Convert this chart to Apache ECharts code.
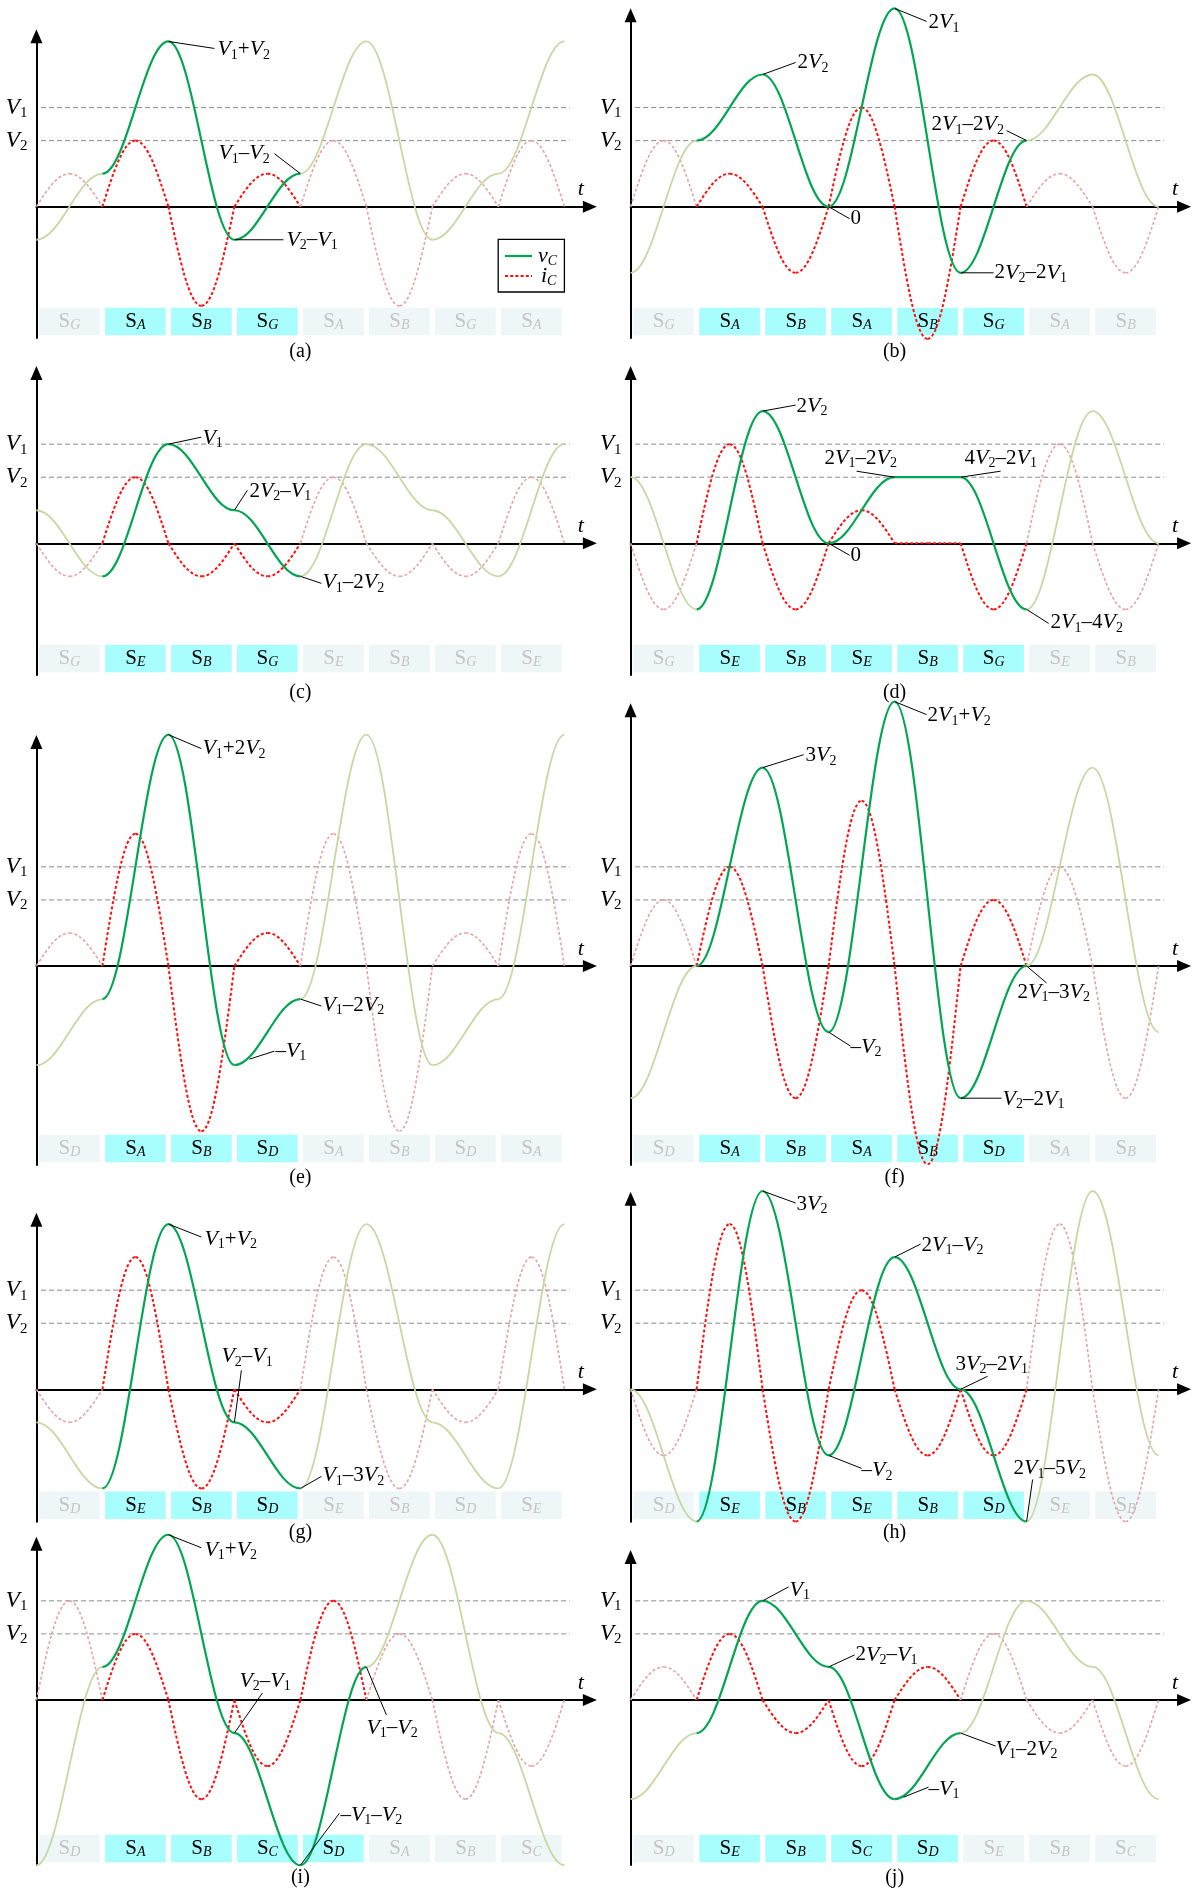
<!DOCTYPE html>
<html>
<head>
<meta charset="utf-8">
<title>vC / iC waveforms</title>
<script src="https://cdn.jsdelivr.net/npm/echarts@6.0.0/dist/echarts.min.js"></script>
<style>
  html, body { margin: 0; padding: 0; background: #fff; }
  #chart { width: 1192px; height: 1890px; }
</style>
</head>
<body>
<div id="chart"></div>
<script>
// levels, in axis units
const V1 = 3;
const V2 = 2;

// vC at the 9 segment boundaries, iC peak of each of the 8 segments,
// switch state of each segment, and the highlighted segment range
const vcA = [-1, 1, 5, -1, 1, 5, -1, 1, 5];
const icA = [1, 2, -3, 1, 2, -3, 1, 2];
const swA = ['G', 'A', 'B', 'G', 'A', 'B', 'G', 'A'];
const hiA = [1, 3];

const vcB = [-2, 2, 4, 0, 6, -2, 2, 4, 0];
const icB = [2, 1, -2, 3, -4, 2, 1, -2];
const swB = ['G', 'A', 'B', 'A', 'B', 'G', 'A', 'B'];
const hiB = [1, 5];

const vcC = [1, -1, 3, 1, -1, 3, 1, -1, 3];
const icC = [-1, 2, -1, -1, 2, -1, -1, 2];
const swC = ['G', 'E', 'B', 'G', 'E', 'B', 'G', 'E'];
const hiC = [1, 3];

const vcD = [2, -2, 4, 0, 2, 2, -2, 4, 0];
const icD = [-2, 3, -2, 1, 0, -2, 3, -2];
const swD = ['G', 'E', 'B', 'E', 'B', 'G', 'E', 'B'];
const hiD = [1, 5];

const vcE = [-3, -1, 7, -3, -1, 7, -3, -1, 7];
const icE = [1, 4, -5, 1, 4, -5, 1, 4];
const swE = ['D', 'A', 'B', 'D', 'A', 'B', 'D', 'A'];
const hiE = [1, 3];

const vcF = [-4, 0, 6, -2, 8, -4, 0, 6, -2];
const icF = [2, 3, -4, 5, -6, 2, 3, -4];
const swF = ['D', 'A', 'B', 'A', 'B', 'D', 'A', 'B'];
const hiF = [1, 5];

const vcG = [-1, -3, 5, -1, -3, 5, -1, -3, 5];
const icG = [-1, 4, -3, -1, 4, -3, -1, 4];
const swG = ['D', 'E', 'B', 'D', 'E', 'B', 'D', 'E'];
const hiG = [1, 3];

const vcH = [0, -4, 6, -2, 4, 0, -4, 6, -2];
const icH = [-2, 5, -4, 3, -2, -2, 5, -4];
const swH = ['D', 'E', 'B', 'E', 'B', 'D', 'E', 'B'];
const hiH = [1, 5];

const vcI = [-5, 1, 5, -1, -5, 1, 5, -1, -5];
const icI = [3, 2, -3, -2, 3, 2, -3, -2];
const swI = ['D', 'A', 'B', 'C', 'D', 'A', 'B', 'C'];
const hiI = [1, 4];

const vcJ = [-3, -1, 3, 1, -3, -1, 3, 1, -3];
const icJ = [1, 2, -1, -2, 1, 2, -1, -2];
const swJ = ['D', 'E', 'B', 'C', 'D', 'E', 'B', 'C'];
const hiJ = [1, 4];

const captions = ['(a)', '(b)', '(c)', '(d)', '(e)', '(f)', '(g)', '(h)', '(i)', '(j)'];

// callouts: boundary index, text, leader end / text offset (px from the point)
const notes = [
  [{t: 2, text: 'V1+V2', l: [46, 7], p: [49, 8]},
   {t: 4, text: 'V1–V2', l: [-26, -20], p: [-82, -20]},
   {t: 3, text: 'V2–V1', l: [49, 0], p: [52, 0]}],
  [{t: 2, text: '2V2', l: [33, -12], p: [35, -12]},
   {t: 4, text: '2V1', l: [32, 13], p: [34, 14]},
   {t: 3, text: '0', l: [21, 12], p: [22, 12]},
   {t: 6, text: '2V1–2V2', l: [-20, -10], p: [-95, -16]},
   {t: 5, text: '2V2–2V1', l: [33, 0], p: [34, 0]}],
  [{t: 2, text: 'V1', l: [33, -7], p: [34, -6]},
   {t: 3, text: '2V2–V1', l: [13, -20], p: [15, -19]},
   {t: 4, text: 'V1–2V2', l: [21, 7], p: [22, 6]}],
  [{t: 2, text: '2V2', l: [33, -6], p: [34, -5]},
   {t: 3, text: '0', l: [21, 12], p: [22, 12]},
   {t: 4, text: '2V1–2V2', l: [-38, -6], p: [-70, -19]},
   {t: 5, text: '4V2–2V1', l: [40, -6], p: [4, -19]},
   {t: 6, text: '2V1–4V2', l: [22, 14], p: [24, 13]}],
  [{t: 2, text: 'V1+2V2', l: [33, 14], p: [34, 14]},
   {t: 4, text: 'V1–2V2', l: [21, 7], p: [22, 6]},
   {t: 3, text: '–V1', s: [15, -6], l: [40, -14], p: [41, -14]}],
  [{t: 2, text: '3V2', l: [41, -13], p: [43, -12]},
   {t: 4, text: '2V1+V2', l: [32, 13], p: [33, 14]},
   {t: 3, text: '–V2', l: [22, 14], p: [22, 15]},
   {t: 6, text: '2V1–3V2', l: [20, 17], p: [-9, 26]},
   {t: 5, text: 'V2–2V1', l: [41, 0], p: [42, 1]}],
  [{t: 2, text: 'V1+V2', l: [33, 13], p: [36, 15]},
   {t: 3, text: 'V2–V1', l: [7, -52], p: [-13, -66]},
   {t: 4, text: 'V1–3V2', l: [21, -12], p: [22, -13]}],
  [{t: 2, text: '3V2', l: [33, 12], p: [34, 13]},
   {t: 4, text: '2V1–V2', l: [26, -13], p: [27, -12]},
   {t: 3, text: '–V2', l: [33, 13], p: [33, 15]},
   {t: 5, text: '3V2–2V1', l: [27, -13], p: [-5, -25]},
   {t: 6, text: '2V1–5V2', l: [6, -42], p: [-13, -53]}],
  [{t: 2, text: 'V1+V2', l: [33, 13], p: [36, 15]},
   {t: 3, text: 'V2–V1', l: [28, -40], p: [5, -52]},
   {t: 5, text: 'V1–V2', l: [20, 48], p: [0, 61]},
   {t: 4, text: '–V1–V2', l: [39, -52], p: [40, -50]}],
  [{t: 2, text: 'V1', l: [26, -14], p: [27, -11]},
   {t: 3, text: '2V2–V1', l: [26, -12], p: [27, -12]},
   {t: 5, text: 'V1–2V2', l: [35, 13], p: [35, 16]},
   {t: 4, text: '–V1', s: [9, -2], l: [34, -12], p: [34, -10]}]
];

// panel frames: axis x, zero y, top arrow tip y, axis bottom y, caption y
const layout = [
  [36.4, 206.7, 29.3, 338, 352],
  [630.6, 206.7, 8.3, 338, 352],
  [36.4, 543.3, 366, 675, 693],
  [630.6, 543.3, 366, 675, 693],
  [36.4, 966, 735, 1165, 1178],
  [630.6, 966, 703.3, 1165, 1178],
  [36.4, 1389.3, 1212.7, 1521.7, 1533],
  [630.6, 1389.3, 1191.7, 1521.7, 1533],
  [36.4, 1700, 1536.7, 1865, 1878],
  [630.6, 1700, 1550, 1865, 1878]
];

const panels = [
  {vc: vcA, ic: icA, sw: swA, hi: hiA},
  {vc: vcB, ic: icB, sw: swB, hi: hiB},
  {vc: vcC, ic: icC, sw: swC, hi: hiC},
  {vc: vcD, ic: icD, sw: swD, hi: hiD},
  {vc: vcE, ic: icE, sw: swE, hi: hiE},
  {vc: vcF, ic: icF, sw: swF, hi: hiF},
  {vc: vcG, ic: icG, sw: swG, hi: hiG},
  {vc: vcH, ic: icH, sw: swH, hi: hiH},
  {vc: vcI, ic: icI, sw: swI, hi: hiI},
  {vc: vcJ, ic: icJ, sw: swJ, hi: hiJ}
];

const SERIF = '"Liberation Serif", "Times New Roman", serif';
const UNIT = 33.05;   // px per axis unit
const SEG = 66;       // px per segment
const XMAX = 8.386;
const GREEN = '#00a651', GREEN_FADE = '#c6d8a2';
const RED = '#ff1010', RED_FADE = '#e6a3a3';
const CYAN = '#a8fdfd', CYAN_FADE = '#eef6f8';
// bezier handles: half cosine (vC) and quarter sine (iC)
const K_COS = 0.3634;
const SIN_A = 0.3261, SIN_B = 0.5123, SIN_C = 0.6381;

const RICH = {
  v: {fontFamily: SERIF, fontStyle: 'italic', fontSize: 22, lineHeight: 25},
  n: {fontFamily: SERIF, fontSize: 21, lineHeight: 25},
  s: {fontFamily: SERIF, fontSize: 14, verticalAlign: 'bottom'}
};
const RICH_LV = {
  v: {fontFamily: SERIF, fontStyle: 'italic', fontSize: 23, lineHeight: 26},
  s: {fontFamily: SERIF, fontSize: 15, verticalAlign: 'bottom'}
};

// 'V1–2V2' -> rich text with italic V and subscript digit
function rich(str) {
  return str.replace(/V(\d)|([^V]+)/g, function (m, d, other) {
    return d ? '{v|V}{s|' + d + '}' : '{n|' + other + '}';
  });
}

function isOn(p, i) {
  return i >= p.hi[0] && i <= p.hi[1];
}

function boxSeries(k, p) {
  return {
    type: 'custom', xAxisIndex: k, yAxisIndex: k, z: 1, silent: true,
    data: p.sw.map(function (s, i) { return [i + 0.5, 0]; }),
    renderItem: function (params, api) {
      const i = params.dataIndex;
      const cs = params.coordSys;
      const x0 = api.coord([i, 0])[0] + 2.7;
      const x1 = api.coord([i + 1, 0])[0] - 2.7;
      const yb = cs.y + cs.height;
      const on = isOn(p, i);
      return {
        type: 'group',
        children: [
          {type: 'rect', shape: {x: x0, y: yb - 30.3, width: x1 - x0, height: 27.6},
           style: {fill: on ? CYAN : CYAN_FADE}},
          {type: 'text', x: (x0 + x1) / 2, y: yb - 16.5,
           style: {
             text: '{b|S}{c|' + p.sw[i] + '}', align: 'center', verticalAlign: 'middle',
             fill: on ? '#000' : '#c4c4c4',
             rich: {
               b: {fontFamily: SERIF, fontSize: 21, lineHeight: 22},
               c: {fontFamily: SERIF, fontStyle: 'italic', fontSize: 14, verticalAlign: 'bottom'}
             }
           }}
        ]
      };
    }
  };
}

function levelSeries(k) {
  const levels = [[V1, '1'], [V2, '2']];
  return {
    type: 'custom', xAxisIndex: k, yAxisIndex: k, z: 2, silent: true,
    data: levels.map(function (l) { return [4, l[0]]; }),
    renderItem: function (params, api) {
      const lv = levels[params.dataIndex];
      const a = api.coord([0.07, lv[0]]);
      const b = api.coord([8.08, lv[0]]);
      const ax = api.coord([0, lv[0]])[0];
      return {
        type: 'group',
        children: [
          {type: 'line', shape: {x1: a[0], y1: a[1], x2: b[0], y2: b[1]},
           style: {stroke: '#8a8a8a', lineWidth: 1, lineDash: [5, 3]}},
          {type: 'text', x: ax - 9, y: a[1],
           style: {text: '{v|V}{s|' + lv[1] + '}', rich: RICH_LV, fill: '#000',
                   align: 'right', verticalAlign: 'middle'}}
        ]
      };
    }
  };
}

function icSeries(k, p) {
  return {
    type: 'custom', xAxisIndex: k, yAxisIndex: k, z: 3, silent: true,
    data: p.ic.map(function (v, i) { return [i + 0.5, v]; }),
    renderItem: function (params, api) {
      const i = params.dataIndex;
      const a = api.coord([i, 0]);
      const m = api.coord([i + 0.5, p.ic[i]]);
      const b = api.coord([i + 1, 0]);
      const h = m[0] - a[0];
      const dy = m[1] - a[1];
      const on = isOn(p, i);
      const style = {fill: 'none', stroke: on ? RED : RED_FADE, lineWidth: on ? 2 : 1.6, lineDash: [3, 2.2]};
      return {
        type: 'group',
        children: [
          {type: 'bezierCurve', style: style,
           shape: {x1: a[0], y1: a[1], cpx1: a[0] + SIN_A * h, cpy1: a[1] + SIN_B * dy,
                   cpx2: a[0] + SIN_C * h, cpy2: m[1], x2: m[0], y2: m[1]}},
          {type: 'bezierCurve', style: style,
           shape: {x1: m[0], y1: m[1], cpx1: m[0] + (1 - SIN_C) * h, cpy1: m[1],
                   cpx2: b[0] - SIN_A * h, cpy2: b[1] + SIN_B * dy, x2: b[0], y2: b[1]}}
        ]
      };
    }
  };
}

function vcSeries(k, p) {
  return {
    type: 'custom', xAxisIndex: k, yAxisIndex: k, z: 4, silent: true,
    data: p.ic.map(function (v, i) { return [i + 0.5, p.vc[i]]; }),
    renderItem: function (params, api) {
      const i = params.dataIndex;
      const a = api.coord([i, p.vc[i]]);
      const b = api.coord([i + 1, p.vc[i + 1]]);
      const d = (b[0] - a[0]) * K_COS;
      const on = isOn(p, i);
      return {
        type: 'bezierCurve',
        shape: {x1: a[0], y1: a[1], cpx1: a[0] + d, cpy1: a[1],
                cpx2: b[0] - d, cpy2: b[1], x2: b[0], y2: b[1]},
        style: {fill: 'none', stroke: on ? GREEN : GREEN_FADE, lineWidth: on ? 2.2 : 1.8}
      };
    }
  };
}

function noteSeries(k, p) {
  const list = notes[k];
  return {
    type: 'custom', xAxisIndex: k, yAxisIndex: k, z: 5, silent: true,
    data: list.map(function (n) { return [n.t, p.vc[n.t]]; }),
    renderItem: function (params, api) {
      const n = list[params.dataIndex];
      const c = api.coord([n.t, p.vc[n.t]]);
      const s = n.s || [0, 0];
      return {
        type: 'group',
        children: [
          {type: 'line', shape: {x1: c[0] + s[0], y1: c[1] + s[1], x2: c[0] + n.l[0], y2: c[1] + n.l[1]},
           style: {stroke: '#000', lineWidth: 1}},
          {type: 'text', x: c[0] + n.p[0], y: c[1] + n.p[1],
           style: {text: rich(n.text), rich: RICH, fill: '#000', align: 'left', verticalAlign: 'middle'}}
        ]
      };
    }
  };
}

const grids = [], xAxes = [], yAxes = [], series = [], graphics = [];
const axisLine = {
  onZero: true,
  symbol: ['none', 'triangle'],
  symbolSize: [12, 14],
  lineStyle: {color: '#000', width: 2}
};

panels.forEach(function (p, k) {
  const [x0, zy, tip, bot, capY] = layout[k];
  const top = tip + 7;
  grids.push({left: x0, top: top, width: XMAX * SEG, height: bot - top, outerBoundsMode: 'none'});
  xAxes.push({
    gridIndex: k, type: 'value', min: 0, max: XMAX,
    axisLine: axisLine, axisTick: {show: false}, axisLabel: {show: false}, splitLine: {show: false},
    name: 't', nameLocation: 'end', nameGap: -9,
    nameTextStyle: {fontFamily: SERIF, fontStyle: 'italic', fontSize: 22, color: '#000',
                    align: 'center', verticalAlign: 'bottom', padding: [0, 0, 6, 0]}
  });
  yAxes.push({
    gridIndex: k, type: 'value', min: (zy - bot) / UNIT, max: (zy - top) / UNIT,
    axisLine: axisLine, axisTick: {show: false}, axisLabel: {show: false}, splitLine: {show: false}
  });
  series.push(boxSeries(k, p), levelSeries(k), icSeries(k, p), vcSeries(k, p), noteSeries(k, p));
  graphics.push({
    type: 'text', x: x0 + 4 * SEG, y: capY,
    style: {text: captions[k], fontFamily: SERIF, fontSize: 20, fill: '#000',
            align: 'center', verticalAlign: 'middle'}
  });
});

// legend box of panel (a)
const legendSub = {fontFamily: SERIF, fontStyle: 'italic', fontSize: 14, verticalAlign: 'bottom'};
graphics.push({
  type: 'group',
  children: [
    {type: 'rect', shape: {x: 498.2, y: 239.3, width: 66.2, height: 52.7},
     style: {fill: '#fff', stroke: '#000', lineWidth: 1.3}},
    {type: 'line', shape: {x1: 505, y1: 256, x2: 532, y2: 256},
     style: {stroke: GREEN, lineWidth: 2.2}},
    {type: 'line', shape: {x1: 505, y1: 276, x2: 532, y2: 276},
     style: {stroke: RED, lineWidth: 2, lineDash: [3, 2.2]}},
    {type: 'text', x: 538, y: 256,
     style: {text: '{v|v}{c|C}', verticalAlign: 'middle', fill: '#000', rich: {v: RICH.v, c: legendSub}}},
    {type: 'text', x: 541, y: 276,
     style: {text: '{v|i}{c|C}', verticalAlign: 'middle', fill: '#000', rich: {v: RICH.v, c: legendSub}}}
  ]
});

const chart = echarts.init(document.getElementById('chart'), null, {renderer: 'canvas'});
chart.setOption({
  animation: false,
  backgroundColor: '#fff',
  grid: grids,
  xAxis: xAxes,
  yAxis: yAxes,
  series: series,
  graphic: graphics
});
</script>
</body>
</html>
